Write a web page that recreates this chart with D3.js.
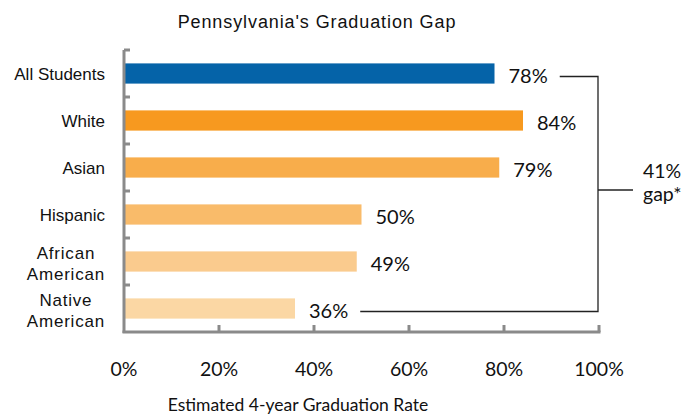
<!DOCTYPE html>
<html>
<head>
<meta charset="utf-8">
<script src="https://cdn.jsdelivr.net/npm/d3@7"></script>
<style>
  body { margin: 0; background: #fff; }
  svg { display: block; }
</style>
</head>
<body>
<div class="canvas"></div>
<script>
// 데이터
const groups = ["All Students", "White", "Asian", "Hispanic", "African American", "Native American"];
const labelLines = [["All Students"], ["White"], ["Asian"], ["Hispanic"], ["African", "American"], ["Native", "American"]];
const rates = [78, 84, 79, 50, 49, 36];
const barColors = ["#0563A8", "#F7991F", "#F8AD4B", "#F9BB6A", "#FACB8E", "#FBD7A4"];
const xTicks = [0, 20, 40, 60, 80, 100];
const gapText = ["41%", "gap*"];

const width = 686;
const height = 415;
const marginTop = 50;
const marginLeft = 124;
const marginRight = 87;
const marginBottom = 83;

const svg = d3.select(".canvas").append("svg")
  .attr("width", width)
  .attr("height", height);

const x = d3.scaleLinear()
  .domain([0, 100])
  .range([marginLeft, width - marginRight]);

const y = d3.scaleBand()
  .domain(groups)
  .range([marginTop, height - marginBottom])
  .paddingInner(0.57)
  .paddingOuter(0.285);

const axisColor = "#8a8a8a";
const numFont = "Lato, 'Open Sans', sans-serif";
const labelFont = "'Liberation Sans', Arial, sans-serif";

// 제목
svg.append("text")
  .attr("x", 317)
  .attr("y", 28)
  .attr("text-anchor", "middle")
  .style("font-family", labelFont)
  .style("font-size", "18px")
  .style("letter-spacing", "0.9px")
  .style("fill", "#111")
  .text("Pennsylvania's Graduation Gap");

// 막대
svg.selectAll(".bar")
  .data(groups)
  .join("rect")
  .attr("class", "bar")
  .attr("x", x(0))
  .attr("y", d => y(d))
  .attr("width", (d, i) => x(rates[i]) - x(0))
  .attr("height", y.bandwidth())
  .attr("fill", (d, i) => barColors[i]);

// y 축 (카테고리 경계에 눈금)
const yEdges = d3.range(groups.length + 1).map(i => marginTop + i * (height - marginBottom - marginTop) / groups.length);
svg.append("line")
  .attr("x1", x(0)).attr("x2", x(0))
  .attr("y1", yEdges[0]).attr("y2", yEdges[yEdges.length - 1] + 1)
  .attr("stroke", axisColor).attr("stroke-width", 3);
svg.selectAll(".ytick")
  .data(yEdges.slice(0, -1))
  .join("line")
  .attr("class", "ytick")
  .attr("x1", x(0)).attr("x2", x(0) + 6)
  .attr("y1", d => d).attr("y2", d => d)
  .attr("stroke", axisColor).attr("stroke-width", 3);

// x 축
const axisY = yEdges[yEdges.length - 1];
svg.append("line")
  .attr("x1", x(0) - 1.5).attr("x2", x(100) + 1.5)
  .attr("y1", axisY).attr("y2", axisY)
  .attr("stroke", axisColor).attr("stroke-width", 3);
svg.selectAll(".xtick")
  .data(xTicks.slice(1))
  .join("line")
  .attr("class", "xtick")
  .attr("x1", d => x(d)).attr("x2", d => x(d))
  .attr("y1", axisY).attr("y2", axisY - 7)
  .attr("stroke", axisColor).attr("stroke-width", 3);

svg.selectAll(".xlabel")
  .data(xTicks)
  .join("text")
  .attr("class", "xlabel")
  .attr("x", d => x(d))
  .attr("y", axisY + 44)
  .attr("text-anchor", "middle")
  .style("font-family", numFont)
  .style("font-size", "19.5px")
  .style("fill", "#111")
  .text(d => d + "%");

svg.append("text")
  .attr("x", 298)
  .attr("y", axisY + 79)
  .attr("text-anchor", "middle")
  .style("font-family", numFont)
  .style("font-size", "17.5px")
  .style("fill", "#111")
  .text("Estimated 4-year Graduation Rate");

// 카테고리 라벨 (두 줄짜리는 가운데 정렬)
const labelRight = 105;
svg.selectAll(".cat")
  .data(groups)
  .join("text")
  .attr("class", "cat")
  .style("font-family", labelFont)
  .style("font-size", "17px")
  .style("fill", "#111")
  .each(function(d, i) {
    const lines = labelLines[i];
    const cy = y(d) + y.bandwidth() / 2;
    const t = d3.select(this);
    if (lines.length === 1) {
      t.attr("text-anchor", "end")
        .attr("x", labelRight)
        .attr("y", cy + 6)
        .text(lines[0]);
    } else {
      t.attr("text-anchor", "middle").style("letter-spacing", "0.8px");
      const spans = lines.map((ln, j) => t.append("tspan")
        .attr("y", cy - 2.5 + j * 21)
        .text(ln));
      const w = d3.max(spans, s => s.node().getComputedTextLength());
      spans.forEach(s => s.attr("x", labelRight - w / 2));
    }
  });

// 값 라벨
const valueLabels = svg.selectAll(".val")
  .data(groups)
  .join("text")
  .attr("class", "val")
  .attr("x", (d, i) => x(rates[i]) + 14)
  .attr("y", d => y(d) + y.bandwidth() / 2 + 9.5)
  .style("font-family", numFont)
  .style("font-size", "20px")
  .style("fill", "#111")
  .text((d, i) => rates[i] + "%");

// 격차 괄호
const bracketX = x(100) - 1;
const topBox = valueLabels.nodes()[0].getBBox();
const botBox = valueLabels.nodes()[groups.length - 1].getBBox();
const yTop = y(groups[0]) + y.bandwidth() / 2 + 3;
const yBot = y(groups[groups.length - 1]) + y.bandwidth() / 2 + 3;
const yMid = (yTop + yBot) / 2 - 4;

svg.append("path")
  .attr("d", `M${topBox.x + topBox.width + 12},${yTop}H${bracketX}V${yBot}H${botBox.x + botBox.width + 12}`)
  .attr("fill", "none")
  .attr("stroke", "#222")
  .attr("stroke-width", 1.3);
svg.append("line")
  .attr("x1", bracketX).attr("x2", bracketX + 35)
  .attr("y1", yMid).attr("y2", yMid)
  .attr("stroke", "#222")
  .attr("stroke-width", 1.3);

svg.selectAll(".gap")
  .data(gapText)
  .join("text")
  .attr("class", "gap")
  .attr("x", 643)
  .attr("y", (d, i) => yMid - 12 + i * 23)
  .style("font-family", numFont)
  .style("font-size", "19.5px")
  .style("fill", "#111")
  .text(d => d);
</script>
</body>
</html>
